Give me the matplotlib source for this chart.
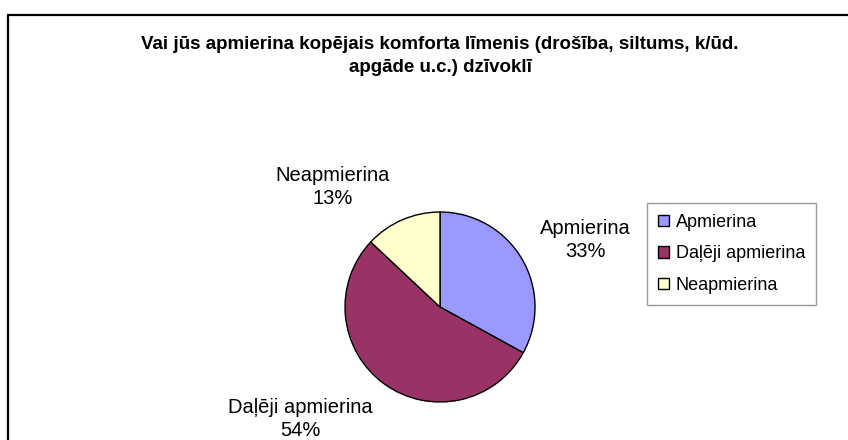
import matplotlib.pyplot as plt
from matplotlib.patches import Rectangle

plt.rcParams['font.family'] = ['Liberation Sans', 'DejaVu Sans']

TITLE = "Vai jūs apmierina kopējais komforta līmenis (drošība, siltums, k/ūd.\napgāde u.c.) dzīvoklī"
labels = ["Apmierina", "Daļēji apmierina", "Neapmierina"]
shares = [33, 54, 13]
colors = ["#9999FF", "#993366", "#FFFFCC"]

# label centres in pixels (Excel places them freely)
label_pos = [(585, 240), (300, 419), (333, 187)]

W, H = 848, 440
fig = plt.figure(figsize=(W / 100, H / 100), dpi=100)

# chart area frame (cut off on right and bottom)
fig.patches.append(Rectangle((8 / W, -0.1), 1.0, 1 - 15 / H + 0.1, transform=fig.transFigure,
                             fill=False, edgecolor="black", linewidth=1.6))

fig.text(440 / W, 1 - 56 / H, TITLE, ha="center", va="center", fontsize=13.5,
         fontweight="bold", linespacing=1.45)

cx, cy, r = 440, 307, 95
ax = fig.add_axes([(cx - r) / W, 1 - (cy + r) / H, 2 * r / W, 2 * r / H])
wedges, _ = ax.pie(shares, colors=colors, startangle=90, counterclock=False,
                   wedgeprops=dict(edgecolor="black", linewidth=1.0))
ax.set_xlim(-1, 1)
ax.set_ylim(-1, 1)

for lab, s, (px, py) in zip(labels, shares, label_pos):
    fig.text(px / W, 1 - py / H, f"{lab}\n{s}%", ha="center", va="center",
             fontsize=14.5, linespacing=1.25)

handles = [Rectangle((0, 0), 1, 1, facecolor=c, edgecolor="black", linewidth=1.0) for c in colors]
leg = fig.legend(handles, labels, loc="upper left", bbox_to_anchor=(647 / W, 1 - 203 / H),
                 frameon=True, fancybox=False, fontsize=13, handlelength=0.6, handleheight=0.6,
                 handletextpad=0.4, labelspacing=0.8, borderpad=0.6, borderaxespad=0)
leg.get_frame().set_edgecolor("#808080")
leg.get_frame().set_linewidth(1.0)

fig.savefig("out.png", dpi=100)
